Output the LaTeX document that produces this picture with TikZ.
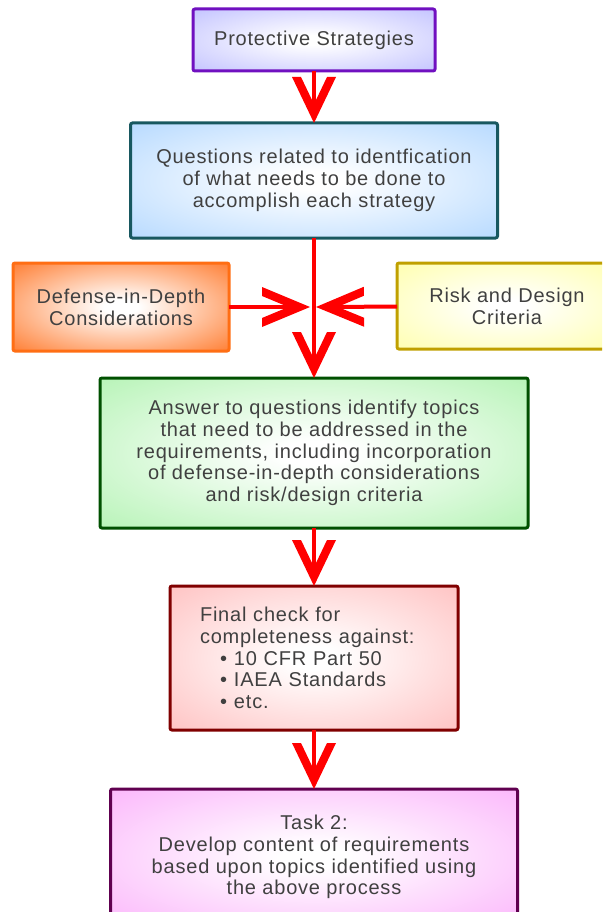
\documentclass[tikz,border=0pt]{standalone}
\usepackage{fontspec}
\setmainfont{Liberation Sans}[LetterSpace=4]
\usetikzlibrary{arrows.meta}

\definecolor{lavfill}{RGB}{176,176,255}
\definecolor{lavline}{RGB}{112,16,192}
\definecolor{bluefill}{RGB}{160,206,255}
\definecolor{blueline}{RGB}{24,88,96}
\definecolor{orfill}{RGB}{255,100,10}
\definecolor{orline}{RGB}{255,110,20}
\definecolor{yelfill}{RGB}{255,255,150}
\definecolor{yelline}{RGB}{192,160,0}
\definecolor{grnfill}{RGB}{160,240,160}
\definecolor{grnline}{RGB}{0,80,0}
\definecolor{redfill}{RGB}{255,176,176}
\definecolor{redline}{RGB}{128,0,0}
\definecolor{magfill}{RGB}{250,160,250}
\definecolor{magline}{RGB}{96,0,80}
\definecolor{labelgray}{RGB}{64,64,64}

% white-centred radial glow fading to the box colour
\newcommand\glowshading[3]{\pgfdeclareradialshading{#1}{\pgfpoint{0bp}{0bp}}{color(0bp)=(white); color(4bp)=(white); color(#3bp)=(#2); color(100bp)=(#2)}}
\glowshading{glowlav}{lavfill}{46}
\glowshading{glowblue}{bluefill}{46}
\glowshading{glowor}{orfill}{42}
\glowshading{glowyel}{yelfill}{46}
\glowshading{glowgrn}{grnfill}{46}
\glowshading{glowred}{redfill}{46}
\glowshading{glowmag}{magfill}{46}

% open, thick-armed chevron arrow head drawn as a filled outline
\pgfdeclarearrow{
  name = Chevron,
  parameters = {\the\pgfarrowlength,\the\pgfarrowwidth},
  setup code = {
    \pgfarrowssettipend{0pt}
    \pgfarrowssetlineend{-14pt}
    \pgfarrowssetbackend{-\pgfarrowlength}
    \pgfarrowssetvisualbackend{-\pgfarrowlength}
    \pgfarrowssavethe\pgfarrowlength
    \pgfarrowssavethe\pgfarrowwidth
  },
  drawing code = {
    \pgfmathsetmacro\chevnotch{2*\pgfarrowlength*9/\pgfarrowwidth}
    \pgfpathmoveto{\pgfpointorigin}
    \pgfpathlineto{\pgfpoint{-\pgfarrowlength}{0.5\pgfarrowwidth}}
    \pgfpathlineto{\pgfpoint{-\pgfarrowlength}{0.5\pgfarrowwidth-9pt}}
    \pgfpathlineto{\pgfpoint{-\chevnotch pt}{0pt}}
    \pgfpathlineto{\pgfpoint{-\pgfarrowlength}{-0.5\pgfarrowwidth+9pt}}
    \pgfpathlineto{\pgfpoint{-\pgfarrowlength}{-0.5\pgfarrowwidth}}
    \pgfpathclose
    \pgfusepathqfill
  },
  defaults = {length=45pt, width=42pt}
}

\tikzset{
  box/.style={rectangle, rounded corners=2pt, line width=3pt, outer sep=0pt,
    inner sep=0pt, align=center, text=labelgray,
    font=\fontsize{20pt}{21.7pt}\selectfont},
  flow/.style={draw=red, fill=red, line width=4pt,
    -{Chevron[length=46pt,width=44pt]}},
  sideflow/.style={draw=red, fill=red, line width=4pt,
    -{Chevron[length=48pt,width=40pt]}},
}

\begin{document}
\begin{tikzpicture}[x=1pt,y=-1pt]
\useasboundingbox (0,0) rectangle (602,912);
\clip (0,0) rectangle (602,912);

\node[box, draw=lavline, shading=glowlav, minimum width=242pt, minimum height=62pt]
  (prot) at (314,40) {Protective Strategies};
\node[box, draw=blueline, shading=glowblue, minimum width=367pt, minimum height=115pt]
  (quest) at (314,180.5) {Questions related to identfication\\of what needs to be done to\\accomplish each strategy};
\node[box, draw=orline, shading=glowor, minimum width=216pt, minimum height=88pt]
  (def) at (121,307) {Defense-in-Depth\\Considerations};
\node[box, draw=yelline, shading=glowyel, minimum width=220pt, minimum height=86pt]
  (risk) at (507,306) {Risk and Design\\Criteria};
\node[box, draw=grnline, shading=glowgrn, minimum width=428pt, minimum height=150pt]
  (ans) at (314,453) {Answer to questions identify topics\\that need to be addressed in the\\requirements, including incorporation\\of defense-in-depth considerations\\and risk/design criteria};
\node[box, draw=redline, shading=glowred, minimum width=288pt, minimum height=144pt,
  text width=228pt, inner xsep=30pt, align=left]
  (final) at (314,658) {Final check for\\completeness against:\\
  \hspace*{20pt}\makebox[14pt][l]{•}10 CFR Part 50\\
  \hspace*{20pt}\makebox[14pt][l]{•}IAEA Standards\\
  \hspace*{20pt}\makebox[14pt][l]{•}etc.};
\node[box, draw=magline, shading=glowmag, minimum width=407pt, minimum height=136pt]
  (task) at (314,857) {Task 2:\\Develop content of requirements\\based upon topics identified using\\the above process};

% meeting point of the side inputs
\coordinate (meetL) at (310,307);
\coordinate (meetR) at (316,307);

\draw[flow] (prot) -- (quest);
\draw[flow] (quest) -- (ans);
\draw[sideflow] (def) -- (meetL);
\draw[sideflow] (risk) -- (meetR);
\draw[flow] (ans) -- (final);
\draw[flow] (final) -- (task);
\end{tikzpicture}
\end{document}
